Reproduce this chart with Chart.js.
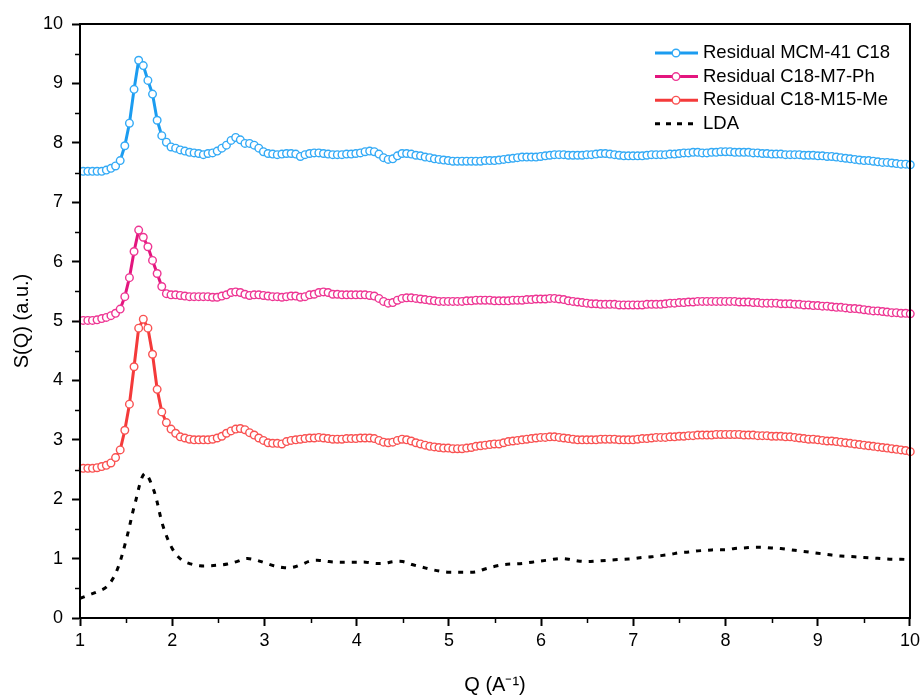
<!DOCTYPE html>
<html>
<head>
<meta charset="utf-8">
<script src="https://cdn.jsdelivr.net/npm/chart.js@4"></script>
<style>
  body { margin: 0; background: #fff; }
  canvas { display: block; }
</style>
</head>
<body>
<canvas id="chart" width="924" height="697"></canvas>
<script>
// Q grid of the residual curves (first point and step, in A^-1)
const qStart = 1.035;
const qStep = 0.0501;

const mcm41 = [
  7.52, 7.52, 7.52, 7.52, 7.52, 7.54, 7.57, 7.61, 7.70, 7.95,
  8.33, 8.90, 9.39, 9.30, 9.05, 8.82, 8.38, 8.12, 8.01, 7.93,
  7.91, 7.88, 7.86, 7.84, 7.83, 7.82, 7.80, 7.82, 7.83, 7.86,
  7.91, 7.96, 8.04, 8.09, 8.05, 7.99, 7.99, 7.96, 7.91, 7.85,
  7.82, 7.81, 7.80, 7.81, 7.82, 7.82, 7.81, 7.77, 7.80, 7.82,
  7.83, 7.83, 7.82, 7.81, 7.80, 7.80, 7.80, 7.81, 7.81, 7.82,
  7.83, 7.85, 7.86, 7.85, 7.81, 7.75, 7.72, 7.73, 7.78, 7.82,
  7.82, 7.81, 7.79, 7.78, 7.76, 7.75, 7.73, 7.72, 7.71, 7.70,
  7.69, 7.69, 7.69, 7.69, 7.69, 7.69, 7.69, 7.70, 7.70, 7.70,
  7.71, 7.72, 7.73, 7.74, 7.75, 7.76, 7.76, 7.76, 7.76, 7.77,
  7.78, 7.79, 7.80, 7.80, 7.80, 7.79, 7.79, 7.79, 7.79, 7.80,
  7.80, 7.81, 7.82, 7.82, 7.81, 7.80, 7.79, 7.78, 7.78, 7.78,
  7.78, 7.78, 7.79, 7.80, 7.80, 7.80, 7.80, 7.81, 7.81, 7.82,
  7.83, 7.83, 7.84, 7.84, 7.83, 7.83, 7.84, 7.84, 7.85, 7.85,
  7.85, 7.84, 7.84, 7.84, 7.84, 7.83, 7.83, 7.82, 7.82, 7.81,
  7.81, 7.81, 7.80, 7.80, 7.80, 7.80, 7.79, 7.79, 7.79, 7.78,
  7.78, 7.77, 7.77, 7.76, 7.75, 7.74, 7.73, 7.72, 7.71, 7.70,
  7.70, 7.69, 7.68, 7.67, 7.67, 7.66, 7.65, 7.64, 7.64, 7.63
];

const m7ph = [
  5.01, 5.01, 5.01, 5.02, 5.04, 5.06, 5.09, 5.13, 5.20, 5.41,
  5.73, 6.17, 6.53, 6.41, 6.25, 6.02, 5.80, 5.58, 5.46, 5.44,
  5.44, 5.43, 5.42, 5.41, 5.41, 5.41, 5.41, 5.41, 5.40, 5.40,
  5.42, 5.44, 5.48, 5.49, 5.48, 5.45, 5.43, 5.44, 5.44, 5.43,
  5.42, 5.41, 5.41, 5.40, 5.41, 5.42, 5.42, 5.40, 5.41, 5.44,
  5.45, 5.48, 5.49, 5.48, 5.45, 5.45, 5.44, 5.44, 5.44, 5.44,
  5.44, 5.44, 5.43, 5.42, 5.38, 5.33, 5.30, 5.31, 5.35, 5.38,
  5.39, 5.39, 5.38, 5.37, 5.36, 5.35, 5.34, 5.33, 5.33, 5.33,
  5.33, 5.33, 5.33, 5.34, 5.34, 5.35, 5.35, 5.35, 5.35, 5.34,
  5.34, 5.34, 5.34, 5.35, 5.35, 5.35, 5.36, 5.36, 5.37, 5.37,
  5.37, 5.38, 5.38, 5.37, 5.36, 5.34, 5.33, 5.32, 5.31, 5.30,
  5.29, 5.29, 5.28, 5.28, 5.28, 5.28, 5.27, 5.27, 5.27, 5.27,
  5.27, 5.27, 5.28, 5.28, 5.28, 5.28, 5.29, 5.30, 5.30, 5.31,
  5.31, 5.32, 5.32, 5.33, 5.33, 5.33, 5.33, 5.33, 5.33, 5.33,
  5.33, 5.33, 5.32, 5.32, 5.32, 5.31, 5.31, 5.30, 5.30, 5.30,
  5.30, 5.29, 5.29, 5.29, 5.28, 5.28, 5.27, 5.27, 5.26, 5.26,
  5.25, 5.25, 5.24, 5.23, 5.23, 5.22, 5.21, 5.21, 5.20, 5.19,
  5.18, 5.17, 5.17, 5.16, 5.15, 5.14, 5.14, 5.13, 5.13, 5.12
];

const m15me = [
  2.52, 2.52, 2.52, 2.53, 2.55, 2.57, 2.61, 2.70, 2.83, 3.16,
  3.60, 4.23, 4.88, 5.03, 4.88, 4.44, 3.85, 3.47, 3.29, 3.18,
  3.11, 3.05, 3.03, 3.01, 3.00, 3.00, 3.00, 3.00, 3.01, 3.03,
  3.06, 3.11, 3.15, 3.18, 3.19, 3.17, 3.12, 3.08, 3.03, 2.99,
  2.95, 2.94, 2.94, 2.93, 2.97, 2.99, 3.00, 3.01, 3.02, 3.03,
  3.03, 3.04, 3.03, 3.02, 3.01, 3.01, 3.01, 3.02, 3.02, 3.02,
  3.03, 3.03, 3.03, 3.02, 2.99, 2.96, 2.95, 2.96, 2.99, 3.01,
  3.00, 2.98, 2.95, 2.93, 2.91, 2.89, 2.88, 2.87, 2.86, 2.86,
  2.85, 2.85, 2.85, 2.86, 2.87, 2.89, 2.90, 2.91, 2.92, 2.93,
  2.93, 2.95, 2.97, 2.98, 2.99, 3.00, 3.01, 3.02, 3.03, 3.04,
  3.04, 3.05, 3.05, 3.04, 3.03, 3.02, 3.01, 3.00, 3.00, 3.00,
  3.00, 3.00, 3.01, 3.01, 3.01, 3.01, 3.00, 3.00, 3.00, 3.00,
  3.01, 3.02, 3.02, 3.03, 3.04, 3.04, 3.04, 3.05, 3.05, 3.06,
  3.06, 3.07, 3.07, 3.08, 3.08, 3.08, 3.08, 3.09, 3.09, 3.09,
  3.09, 3.09, 3.09, 3.08, 3.08, 3.08, 3.07, 3.07, 3.07, 3.06,
  3.06, 3.06, 3.05, 3.05, 3.04, 3.03, 3.02, 3.01, 3.01, 3.00,
  2.99, 2.98, 2.98, 2.97, 2.96, 2.95, 2.94, 2.93, 2.92, 2.91,
  2.90, 2.89, 2.88, 2.87, 2.86, 2.85, 2.84, 2.83, 2.82, 2.80
];

// LDA curve, one value every 0.1 from Q = 1
const ldaStart = 1.0;
const ldaStep = 0.1;
const lda = [
  0.33, 0.39, 0.45, 0.54, 0.80, 1.31, 1.95, 2.43, 2.15, 1.55,
  1.17, 0.98, 0.91, 0.88, 0.88, 0.89, 0.91, 0.95, 1.00, 0.98,
  0.93, 0.88, 0.85, 0.85, 0.90, 0.96, 0.97, 0.95, 0.94, 0.94,
  0.94, 0.94, 0.92, 0.92, 0.95, 0.95, 0.90, 0.86, 0.82, 0.79,
  0.77, 0.77, 0.77, 0.78, 0.83, 0.87, 0.90, 0.91, 0.92, 0.94,
  0.96, 0.98, 1.00, 0.99, 0.96, 0.95, 0.96, 0.97, 0.98, 0.99,
  1.00, 1.02, 1.03, 1.05, 1.07, 1.10, 1.11, 1.13, 1.14, 1.15,
  1.15, 1.17, 1.18, 1.19, 1.19, 1.18, 1.17, 1.15, 1.13, 1.11,
  1.09, 1.07, 1.05, 1.04, 1.03, 1.02, 1.01, 1.00, 0.99, 0.99,
  0.98
];

const seriesNames = ["Residual MCM-41 C18", "Residual C18-M7-Ph", "Residual C18-M15-Me", "LDA"];
const xTicks = [1, 2, 3, 4, 5, 6, 7, 8, 9, 10];
const yTicks = [0, 1, 2, 3, 4, 5, 6, 7, 8, 9, 10];

const FONT = "'Liberation Sans', Arial, sans-serif";
const MARK_R = 3.8;

function toPoints(vals, start, step) {
  return vals.map((v, i) => ({ x: start + i * step, y: v }));
}

function residual(label, vals, line, mark) {
  return {
    label: label,
    data: toPoints(vals, qStart, qStep),
    borderColor: line,
    borderWidth: 3,
    pointRadius: MARK_R,
    pointBorderWidth: 1.4,
    pointBorderColor: mark,
    pointBackgroundColor: "#fff",
    tension: 0,
    clip: 6,
  };
}

const datasets = [
  residual(seriesNames[0], mcm41, "#1b9cf0", "#33aaf6"),
  residual(seriesNames[1], m7ph, "#e3157e", "#ee3593"),
  residual(seriesNames[2], m15me, "#f43a3a", "#f95252"),
  {
    label: seriesNames[3],
    data: toPoints(lda, ldaStart, ldaStep),
    borderColor: "#000",
    borderWidth: 3,
    borderDash: [5, 7],
    pointRadius: 0,
    tension: 0.35,
  },
];

// box round the plot, minor ticks and the legend
const framePlugin = {
  id: "frame",
  afterDraw(chart) {
    const { ctx, chartArea: a, scales } = chart;
    ctx.save();
    ctx.strokeStyle = "#000";
    ctx.lineWidth = 2;
    ctx.strokeRect(a.left, a.top, a.right - a.left, a.bottom - a.top);

    ctx.lineWidth = 1.5;
    for (let i = 0; i < xTicks.length - 1; i++) {
      const px = Math.round(scales.x.getPixelForValue(xTicks[i] + 0.5)) + 0.5;
      ctx.beginPath();
      ctx.moveTo(px, a.bottom);
      ctx.lineTo(px, a.bottom + 5);
      ctx.stroke();
    }
    for (let i = 0; i < yTicks.length - 1; i++) {
      const py = Math.round(scales.y.getPixelForValue(yTicks[i] + 0.5)) + 0.5;
      ctx.beginPath();
      ctx.moveTo(a.left, py);
      ctx.lineTo(a.left - 5, py);
      ctx.stroke();
    }

    // legend
    ctx.font = "18.5px " + FONT;
    ctx.textBaseline = "middle";
    ctx.fillStyle = "#000";
    chart.data.datasets.forEach((ds, i) => {
      const y = 53 + i * 23.6;
      ctx.strokeStyle = ds.borderColor;
      ctx.lineWidth = 3;
      ctx.setLineDash(ds.borderDash ? [5, 6] : []);
      ctx.beginPath();
      ctx.moveTo(655, y);
      ctx.lineTo(698, y);
      ctx.stroke();
      ctx.setLineDash([]);
      if (ds.pointRadius > 0) {
        ctx.beginPath();
        ctx.arc(676, y, MARK_R, 0, Math.PI * 2);
        ctx.fillStyle = "#fff";
        ctx.fill();
        ctx.lineWidth = 1.4;
        ctx.strokeStyle = ds.pointBorderColor;
        ctx.stroke();
      }
      ctx.fillStyle = "#000";
      ctx.fillText(ds.label, 703, y);
    });
    ctx.restore();
  },
};

new Chart(document.getElementById("chart"), {
  type: "line",
  data: { datasets: datasets },
  plugins: [framePlugin],
  options: {
    responsive: false,
    animation: false,
    layout: { padding: { top: 24, right: 13, left: 0, bottom: 0 } },
    plugins: { legend: { display: false }, tooltip: { enabled: false } },
    scales: {
      x: {
        type: "linear",
        min: 1,
        max: 10,
        afterFit: (s) => { s.height = 79; },
        afterBuildTicks: (s) => { s.ticks = xTicks.map((v) => ({ value: v })); },
        ticks: { color: "#000", padding: 4, maxRotation: 0, font: { size: 18, family: FONT } },
        grid: { drawOnChartArea: false, tickLength: 8, tickWidth: 2, tickColor: "#000" },
        border: { color: "#000", width: 2 },
        title: {
          display: true,
          text: "Q (A\u207B\u00B9)",
          color: "#000",
          font: { size: 20, family: FONT, lineHeight: 1.2 },
          padding: { top: 0, bottom: 0 },
        },
      },
      y: {
        min: 0,
        max: 10,
        afterFit: (s) => { s.width = 80; },
        afterBuildTicks: (s) => { s.ticks = yTicks.map((v) => ({ value: v })); },
        ticks: { color: "#000", padding: 9, font: { size: 18, family: FONT } },
        grid: { drawOnChartArea: false, tickLength: 8, tickWidth: 2, tickColor: "#000" },
        border: { color: "#000", width: 2 },
        title: {
          display: true,
          text: "S(Q) (a.u.)",
          color: "#000",
          font: { size: 20, family: FONT, lineHeight: 1.2 },
          padding: { top: 10, bottom: 0 },
        },
      },
    },
  },
});
</script>
</body>
</html>
